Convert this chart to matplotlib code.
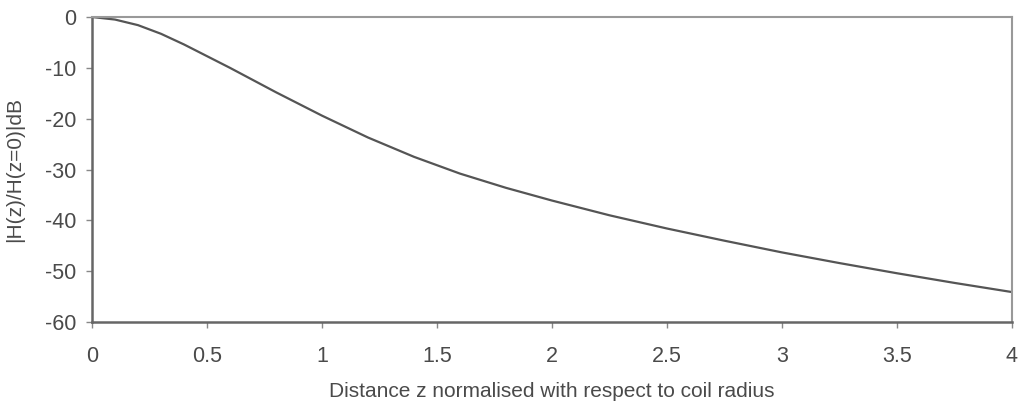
import matplotlib
matplotlib.use("Agg")
import matplotlib.pyplot as plt

# Data
z_values = [0.0, 0.1, 0.2, 0.3, 0.4, 0.5, 0.6, 0.7, 0.8, 0.9, 1.0,
            1.2, 1.4, 1.6, 1.8, 2.0, 2.25, 2.5, 2.75, 3.0, 3.25, 3.5, 3.75, 4.0]
h_db = [0.0, -0.5, -1.6, -3.3, -5.4, -7.7, -10.0, -12.4, -14.8, -17.1, -19.4,
        -23.7, -27.5, -30.8, -33.6, -36.1, -39.0, -41.6, -44.0, -46.3, -48.4, -50.4, -52.3, -54.1]
x_ticks = [0, 0.5, 1, 1.5, 2, 2.5, 3, 3.5, 4]
x_tick_labels = ["0", "0.5", "1", "1.5", "2", "2.5", "3", "3.5", "4"]
y_ticks = [0, -10, -20, -30, -40, -50, -60]
y_tick_labels = ["0", "-10", "-20", "-30", "-40", "-50", "-60"]

plt.rcParams['font.family'] = ['Liberation Sans', 'DejaVu Sans']

fig = plt.figure(figsize=(10.19, 4.15), dpi=100)
ax = fig.add_axes([0.0903, 0.224, 0.9027, 0.735])

ax.plot(z_values, h_db, color="#555555", linewidth=1.6)

ax.set_xlim(0, 4)
ax.set_ylim(-60, 0)
ax.set_xticks(x_ticks)
ax.set_xticklabels(x_tick_labels)
ax.set_yticks(y_ticks)
ax.set_yticklabels(y_tick_labels)

ax.tick_params(axis="both", direction="out", length=4, width=1, color="#888888",
               labelcolor="#4a4a4a", labelsize=15.5)
ax.tick_params(axis="x", pad=13)
ax.tick_params(axis="y", pad=7)

for side in ["left", "bottom"]:
    ax.spines[side].set_color("#666666")
    ax.spines[side].set_linewidth(1.8)
for side in ["top", "right"]:
    ax.spines[side].set_color("#999999")
    ax.spines[side].set_linewidth(1.5)

ax.set_xlabel("Distance z normalised with respect to coil radius", fontsize=15,
              color="#4a4a4a", labelpad=11)
ax.set_ylabel("|H(z)/H(z=0)|dB", fontsize=15, color="#4a4a4a", labelpad=15)

fig.savefig("out.png", dpi=100, facecolor="white")
